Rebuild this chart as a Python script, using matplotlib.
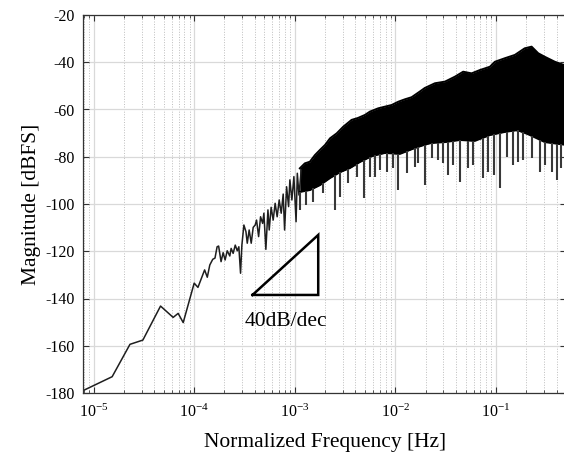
import numpy as np
import matplotlib
matplotlib.use('Agg')
import matplotlib.pyplot as plt
from matplotlib.ticker import LogLocator, MultipleLocator, NullFormatter

plt.rcParams['font.family'] = 'Liberation Serif'
plt.rcParams['mathtext.fontset'] = 'custom'
plt.rcParams['mathtext.rm'] = 'Liberation Serif'
plt.rcParams['axes.unicode_minus'] = False

# low frequency part, single visible trace
line_f = [7.85e-6, 1.53e-5, 2.30e-5, 3.09e-5, 4.63e-5, 6.18e-5, 6.93e-5, 7.78e-5,
          1.00e-4, 1.09e-4, 1.27e-4, 1.35e-4, 1.43e-4, 1.53e-4, 1.61e-4, 1.69e-4,
          1.75e-4, 1.85e-4, 1.94e-4, 2.03e-4, 2.13e-4, 2.26e-4, 2.33e-4, 2.44e-4,
          2.56e-4, 2.68e-4, 2.78e-4, 2.89e-4, 2.98e-4, 3.12e-4, 3.27e-4, 3.37e-4,
          3.52e-4, 3.69e-4, 3.86e-4, 4.04e-4, 4.17e-4, 4.37e-4, 4.57e-4, 4.79e-4,
          4.93e-4, 5.16e-4, 5.41e-4, 5.57e-4, 5.82e-4, 6.10e-4, 6.38e-4, 6.68e-4,
          7.00e-4, 7.33e-4, 7.67e-4, 7.92e-4, 8.29e-4, 8.68e-4, 8.94e-4, 9.36e-4,
          9.80e-4, 1.03e-3, 1.06e-3, 1.10e-3, 1.16e-3]
line_db = [-179.0, -173.1, -159.4, -157.6, -143.2, -148.0, -146.3, -150.2,
           -133.5, -135.3, -127.9, -131.0, -125.8, -123.4, -122.9, -118.1,
           -117.8, -124.4, -120.6, -123.7, -119.8, -122.0, -118.8, -120.9,
           -117.4, -119.8, -118.1, -129.3, -117.4, -108.9, -111.7, -116.6,
           -111.0, -116.6, -109.9, -108.9, -106.8, -113.8, -105.4, -108.2,
           -103.9, -119.2, -102.5, -111.0, -101.4, -106.8, -99.7, -105.4,
           -98.3, -103.9, -95.8, -111.0, -92.7, -101.1, -89.8, -98.3,
           -88.4, -107.5, -87.0, -96.2, -85.6]

# dense part: upper edge of the band
top_f = [1.122e-3, 1.259e-3, 1.413e-3, 1.585e-3, 1.78e-3, 2.00e-3, 2.24e-3, 2.61e-3,
         3.03e-3, 3.67e-3, 4.24e-3, 4.98e-3, 5.58e-3, 6.75e-3, 7.87e-3, 9.17e-3,
         1.07e-2, 1.24e-2, 1.45e-2, 1.75e-2, 1.96e-2, 2.47e-2, 3.11e-2, 3.91e-2,
         4.72e-2, 5.72e-2, 6.92e-2, 8.70e-2, 9.75e-2, 0.1225, 0.154, 0.193,
         0.226, 0.263, 0.306, 0.385, 0.5]
top_db = [-84.9, -82.8, -82.1, -79.3, -77.1, -75.0, -72.2, -70.1,
          -67.3, -64.4, -63.6, -62.3, -60.9, -59.5, -58.8, -58.1,
          -56.7, -55.7, -54.8, -52.4, -50.9, -48.9, -48.2, -46.1,
          -44.0, -44.7, -43.3, -41.9, -39.8, -38.3, -36.9, -34.1,
          -33.4, -36.2, -37.7, -39.8, -41.5]

# lower edge of the solid band
bot_f = [1.122e-3, 1.413e-3, 1.78e-3, 2.24e-3, 2.82e-3, 3.53e-3, 4.44e-3, 5.85e-3,
         7.87e-3, 1.11e-2, 1.56e-2, 2.20e-2, 3.11e-2, 4.38e-2, 6.17e-2, 8.70e-2,
         0.1225, 0.165, 0.217, 0.306, 0.5]
bot_db = [-94.9, -94.1, -92.0, -89.0, -86.5, -84.8, -82.2, -79.7,
          -78.4, -78.8, -76.3, -74.2, -73.8, -72.9, -73.3, -70.8,
          -69.5, -68.7, -70.8, -73.8, -75.0]

# deepest downward spikes below the band
spike_f = [1.122e-3, 1.288e-3, 1.52e-3, 1.91e-3, 2.51e-3, 2.81e-3, 3.40e-3, 4.11e-3,
           4.90e-3, 5.58e-3, 6.26e-3, 7.02e-3, 8.24e-3, 9.51e-3, 1.07e-2, 1.29e-2,
           1.56e-2, 1.69e-2, 1.96e-2, 2.29e-2, 2.67e-2, 2.99e-2, 3.35e-2, 3.73e-2,
           4.38e-2, 5.30e-2, 5.93e-2, 7.46e-2, 8.36e-2, 9.53e-2, 0.1094, 0.1285,
           0.147, 0.166, 0.185, 0.226, 0.273, 0.306, 0.357, 0.400, 0.442]
spike_db = [-102.5, -100.4, -99.0, -95.5, -102.5, -96.9, -91.2, -88.4,
            -97.6, -88.4, -88.4, -85.6, -86.5, -84.9, -94.1, -87.0,
            -84.2, -82.8, -92.0, -80.5, -81.4, -82.8, -87.7, -83.5,
            -90.6, -84.9, -83.5, -89.1, -86.3, -87.7, -93.4, -80.1,
            -83.5, -82.1, -81.4, -80.5, -86.3, -83.5, -86.3, -89.8, -84.8]

# 40 dB/dec slope triangle
tri_f = [3.8e-4, 1.71e-3, 1.71e-3, 3.8e-4]
tri_db = [-138.5, -138.5, -113.1, -138.5]

fig = plt.figure(figsize=(5.64, 4.58), dpi=100)
ax = fig.add_axes([83 / 564, 65 / 458, 483.3 / 564, 378 / 458])

ax.plot(line_f, line_db, color='#1e1e1e', lw=1.1)

band_f = np.array(top_f)
band_bot = np.interp(np.log10(band_f), np.log10(bot_f), bot_db)
ax.fill_between(band_f, band_bot, top_db, color='black', lw=0)
ax.plot(top_f, top_db, color='black', lw=1.4)
ax.plot(bot_f, bot_db, color='black', lw=1.4)
spike_top = np.interp(np.log10(spike_f), np.log10(bot_f), bot_db)
ax.vlines(spike_f, spike_db, spike_top, color='#383838', lw=1.5)

ax.plot(tri_f, tri_db, color='black', lw=1.8, solid_joinstyle='miter')
ax.text(3.2e-4, -151.6, '40dB/dec', fontsize=15.5, va='baseline', ha='left')

ax.set_xscale('log')
ax.set_xlim(7.85e-6, 0.5)
ax.set_ylim(-180, -20)
ax.yaxis.set_major_locator(MultipleLocator(20))
ax.xaxis.set_major_locator(LogLocator(base=10, numticks=10))
ax.xaxis.set_minor_locator(LogLocator(base=10, subs=np.arange(2, 10), numticks=20))
ax.xaxis.set_minor_formatter(NullFormatter())

ax.set_axisbelow(True)
ax.grid(which='major', color='#d9d9d9', lw=0.9)
ax.grid(which='minor', axis='x', color='#bdbdbd', ls=':', lw=0.7)

ax.tick_params(which='both', direction='in', top=True, right=True,
               color='#333333', labelsize=11.5)
ax.tick_params(which='major', length=4, pad=6)
ax.tick_params(axis='x', which='major', pad=8)
ax.tick_params(which='minor', length=2.5)
for s in ax.spines.values():
    s.set_color('#333333')
    s.set_linewidth(0.9)

ax.set_xlabel('Normalized Frequency [Hz]', fontsize=15.5, labelpad=8)
ax.set_ylabel('Magnitude [dBFS]', fontsize=15.5, labelpad=3)

fig.savefig('out.png', dpi=100)
